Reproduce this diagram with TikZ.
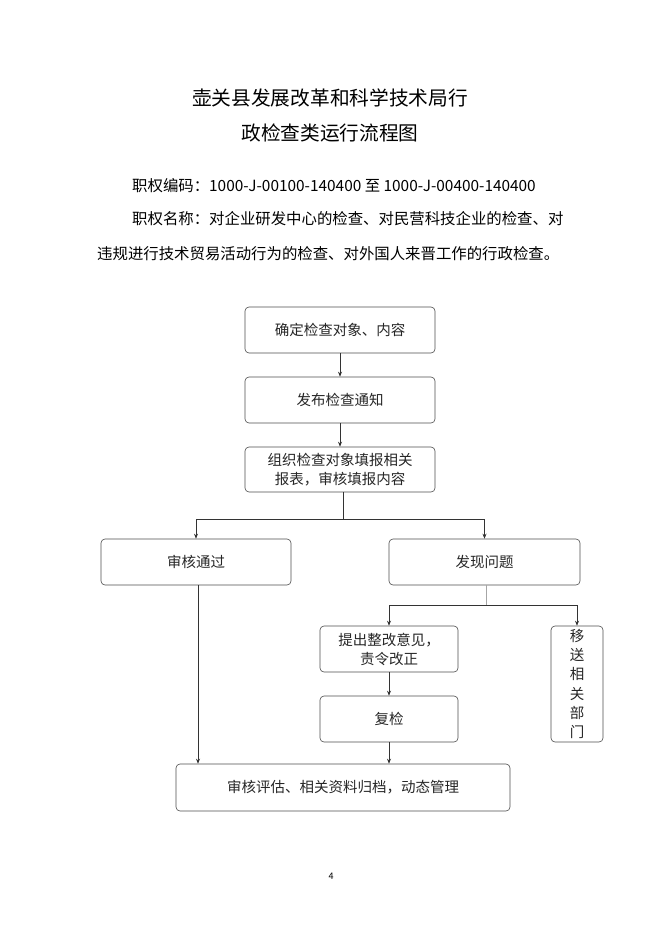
\documentclass[tikz,border=0pt]{standalone}
\usepackage{fontspec}
\setmainfont{Noto Sans CJK SC}
\usetikzlibrary{arrows.meta}
\begin{document}
\begin{tikzpicture}[x=1pt,y=-1pt,
  box/.style={draw=black!70,line width=0.6pt,rounded corners=4pt,inner sep=0pt,align=center,font=\fontsize{14.5}{19}\selectfont,text=black!85},
  ln/.style={draw=black!80,line width=0.6pt},
  arr/.style={ln,-{Stealth[length=5pt,width=4pt]}},
  body/.style={anchor=west,inner sep=0pt,font=\fontsize{15.4}{18}\selectfont}]
\useasboundingbox (0,0) rectangle (662,936);
\node[inner sep=0pt,font=\fontsize{19.7}{22}\selectfont] (t1) at (330,98) {壶关县发展改革和科学技术局行};
\node[inner sep=0pt,font=\fontsize{19.7}{22}\selectfont] (t2) at (330,133) {政检查类运行流程图};
\node[body] (l1) at (132,186) {职权编码：1000-J-00100-140400 至 1000-J-00400-140400};
\node[body] (l2) at (132,219) {职权名称：对企业研发中心的检查、对民营科技企业的检查、对};
\node[body] (l3) at (97,254) {违规进行技术贸易活动行为的检查、对外国人来晋工作的行政检查。};
\node[inner sep=0pt,font=\fontsize{9}{10}\selectfont] (pg) at (331,876) {4};

\node[box,minimum width=190pt,minimum height=46pt] (b1) at (340,330) {确定检查对象、内容};
\node[box,minimum width=190pt,minimum height=46pt] (b2) at (340,400) {发布检查通知};
\node[box,minimum width=190pt,minimum height=45pt] (b3) at (340,469.5) {组织检查对象填报相关\\报表，审核填报内容};
\node[box,minimum width=190pt,minimum height=46pt] (b4) at (196,562) {审核通过};
\node[box,minimum width=191pt,minimum height=46pt] (b5) at (484.5,562) {发现问题};
\node[box,minimum width=138pt,minimum height=46pt] (b6) at (389,649) {提出整改意见，\\责令改正};
\node[box,minimum width=52pt,minimum height=116pt,font=\fontsize{14.5}{19.3}\selectfont] (b7) at (577,684) {移\\送\\相\\关\\部\\门};
\node[box,minimum width=138pt,minimum height=46pt] (b8) at (389,719) {复检};
\node[box,minimum width=334pt,minimum height=47pt] (b9) at (343,787.5) {审核评估、相关资料归档，动态管理};

\coordinate (j1) at (343,519);
\coordinate (j2) at (486,605);
\draw[arr] (b1) -- (b2);
\draw[arr] (b2) -- (b3);
\draw[ln] (b3.south -| j1) -- (j1);
\draw[arr] (j1) -| (b4.north);
\draw[arr] (j1) -| (b5.north);
\draw[ln,draw=black!35] (b5.south -| j2) -- (j2);
\draw[arr] (j2) -| (b6.north);
\draw[arr] (j2) -| (b7.north);
\draw[arr] (b6) -- (b8);
\draw[arr] (b8.south) -- (b9.north -| b8.south);
\draw[arr] (b4.south -| 198,0) -- (b9.north -| 198,0);
\end{tikzpicture}
\end{document}
